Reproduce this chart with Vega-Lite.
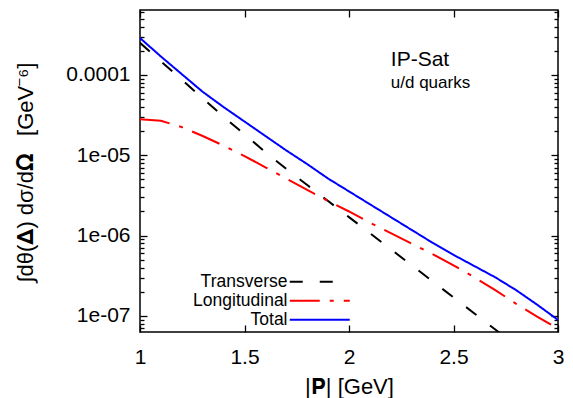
{
  "$schema": "https://vega.github.io/schema/vega-lite/v6.json",
  "width": 418,
  "height": 322,
  "autosize": "none",
  "padding": {"left": 140, "top": 10, "right": 15, "bottom": 66},
  "background": "white",
  "config": {
    "view": {"stroke": "black", "strokeWidth": 1.5},
    "font": "Liberation Sans",
    "axis": {
      "domain": false,
      "grid": false,
      "labelColor": "black",
      "labelFont": "Liberation Sans",
      "labelFontSize": 21,
      "titleFont": "Liberation Sans",
      "titleFontSize": 22,
      "titleFontWeight": "normal",
      "titleColor": "black",
      "labelOverlap": false,
      "labelFlush": false,
      "labelBound": false
    }
  },
  "data": {
    "values": [
      {"p": 1.0, "v": 2.512e-4, "s": "Transverse"},
      {"p": 1.1, "v": 1.479e-4, "s": "Transverse"},
      {"p": 1.2, "v": 8.710e-5, "s": "Transverse"},
      {"p": 1.3, "v": 5.129e-5, "s": "Transverse"},
      {"p": 1.4, "v": 3.020e-5, "s": "Transverse"},
      {"p": 1.5, "v": 1.820e-5, "s": "Transverse"},
      {"p": 1.6, "v": 1.096e-5, "s": "Transverse"},
      {"p": 1.7, "v": 6.761e-6, "s": "Transverse"},
      {"p": 1.8, "v": 4.266e-6, "s": "Transverse"},
      {"p": 1.9, "v": 2.692e-6, "s": "Transverse"},
      {"p": 2.0, "v": 1.698e-6, "s": "Transverse"},
      {"p": 2.1, "v": 1.072e-6, "s": "Transverse"},
      {"p": 2.2, "v": 6.761e-7, "s": "Transverse"},
      {"p": 2.3, "v": 4.266e-7, "s": "Transverse"},
      {"p": 2.4, "v": 2.692e-7, "s": "Transverse"},
      {"p": 2.5, "v": 1.698e-7, "s": "Transverse"},
      {"p": 2.6, "v": 1.072e-7, "s": "Transverse"},
      {"p": 2.7, "v": 6.761e-8, "s": "Transverse"},
      {"p": 2.8, "v": 4.266e-8, "s": "Transverse"},
      {"p": 1.0, "v": 2.818e-5, "s": "Longitudinal"},
      {"p": 1.1, "v": 2.692e-5, "s": "Longitudinal"},
      {"p": 1.2, "v": 2.239e-5, "s": "Longitudinal"},
      {"p": 1.3, "v": 1.738e-5, "s": "Longitudinal"},
      {"p": 1.4, "v": 1.318e-5, "s": "Longitudinal"},
      {"p": 1.5, "v": 9.772e-6, "s": "Longitudinal"},
      {"p": 1.6, "v": 7.079e-6, "s": "Longitudinal"},
      {"p": 1.7, "v": 5.129e-6, "s": "Longitudinal"},
      {"p": 1.8, "v": 3.715e-6, "s": "Longitudinal"},
      {"p": 1.9, "v": 2.692e-6, "s": "Longitudinal"},
      {"p": 2.0, "v": 1.995e-6, "s": "Longitudinal"},
      {"p": 2.1, "v": 1.445e-6, "s": "Longitudinal"},
      {"p": 2.2, "v": 1.072e-6, "s": "Longitudinal"},
      {"p": 2.3, "v": 7.943e-7, "s": "Longitudinal"},
      {"p": 2.4, "v": 5.888e-7, "s": "Longitudinal"},
      {"p": 2.5, "v": 4.266e-7, "s": "Longitudinal"},
      {"p": 2.6, "v": 3.020e-7, "s": "Longitudinal"},
      {"p": 2.7, "v": 2.089e-7, "s": "Longitudinal"},
      {"p": 2.8, "v": 1.413e-7, "s": "Longitudinal"},
      {"p": 2.9, "v": 9.772e-8, "s": "Longitudinal"},
      {"p": 3.0, "v": 6.918e-8, "s": "Longitudinal"},
      {"p": 1.0, "v": 2.884e-4, "s": "Total"},
      {"p": 1.1, "v": 1.698e-4, "s": "Total"},
      {"p": 1.2, "v": 1.023e-4, "s": "Total"},
      {"p": 1.3, "v": 6.166e-5, "s": "Total"},
      {"p": 1.4, "v": 3.981e-5, "s": "Total"},
      {"p": 1.5, "v": 2.630e-5, "s": "Total"},
      {"p": 1.6, "v": 1.738e-5, "s": "Total"},
      {"p": 1.7, "v": 1.148e-5, "s": "Total"},
      {"p": 1.8, "v": 7.762e-6, "s": "Total"},
      {"p": 1.9, "v": 5.129e-6, "s": "Total"},
      {"p": 2.0, "v": 3.548e-6, "s": "Total"},
      {"p": 2.1, "v": 2.455e-6, "s": "Total"},
      {"p": 2.2, "v": 1.698e-6, "s": "Total"},
      {"p": 2.3, "v": 1.175e-6, "s": "Total"},
      {"p": 2.4, "v": 8.128e-7, "s": "Total"},
      {"p": 2.5, "v": 5.754e-7, "s": "Total"},
      {"p": 2.6, "v": 4.169e-7, "s": "Total"},
      {"p": 2.7, "v": 3.020e-7, "s": "Total"},
      {"p": 2.8, "v": 2.089e-7, "s": "Total"},
      {"p": 2.9, "v": 1.380e-7, "s": "Total"},
      {"p": 3.0, "v": 8.913e-8, "s": "Total"}
    ]
  },
  "resolve": {"axis": {"x": "independent", "y": "independent"}},
  "layer": [
    {
      "mark": {"type": "line", "strokeWidth": 2, "clip": true},
      "encoding": {
        "x": {
          "field": "p",
          "type": "quantitative",
          "scale": {"domain": [1, 3], "nice": false, "zero": false},
          "axis": {"orient": "top", "offset": -322, "labels": false, "title": null, "values": [1, 1.5, 2, 2.5, 3], "tickSize": 7, "tickColor": "black", "tickWidth": 1.3}
        },
        "y": {
          "field": "v",
          "type": "quantitative",
          "scale": {"type": "log", "domain": [6.3e-8, 6.44e-4], "nice": false},
          "axis": {
            "orient": "right",
            "offset": -418,
            "labels": false,
            "title": null,
            "values": [7e-8, 8e-8, 9e-8, 1e-7, 2e-7, 3e-7, 4e-7, 5e-7, 6e-7, 7e-7, 8e-7, 9e-7, 1e-6, 2e-6, 3e-6, 4e-6, 5e-6, 6e-6, 7e-6, 8e-6, 9e-6, 1e-5, 2e-5, 3e-5, 4e-5, 5e-5, 6e-5, 7e-5, 8e-5, 9e-5, 1e-4, 2e-4, 3e-4, 4e-4, 5e-4, 6e-4],
            "tickSize": {"condition": {"test": "datum.value == 1e-7 || datum.value == 1e-6 || datum.value == 1e-5 || datum.value == 1e-4", "value": 7}, "value": 4},
            "tickColor": "black",
            "tickWidth": 1.3
          }
        },
        "color": {
          "field": "s",
          "type": "nominal",
          "scale": {"domain": ["Transverse", "Longitudinal", "Total"], "range": ["#000000", "#ff0000", "#0000ff"]},
          "legend": {
            "orient": "none",
            "legendX": 171,
            "legendY": 263,
            "title": null,
            "symbolType": "M-6,0H6",
            "symbolSize": 100,
            "symbolStrokeWidth": 2,
            "labelAlign": "right",
            "labelOffset": -41,
            "labelFontSize": 17.5,
            "labelFont": "Liberation Sans",
            "labelColor": "black",
            "rowPadding": 0,
            "padding": 0
          }
        },
        "strokeDash": {
          "field": "s",
          "type": "nominal",
          "scale": {"domain": ["Transverse", "Longitudinal", "Total"], "range": [[13, 17], [30, 10, 4, 10], [1, 0]]},
          "legend": {
            "orient": "none",
            "legendX": 171,
            "legendY": 263,
            "title": null,
            "symbolType": "M-6,0H6",
            "symbolSize": 100,
            "symbolStrokeWidth": 2,
            "labelAlign": "right",
            "labelOffset": -41,
            "labelFontSize": 17.5,
            "labelFont": "Liberation Sans",
            "labelColor": "black",
            "rowPadding": 0,
            "padding": 0
          }
        }
      }
    },
    {
      "data": {"values": [{}]},
      "mark": {"type": "text", "text": "IP-Sat", "align": "left", "baseline": "alphabetic", "fontSize": 21, "font": "Liberation Sans", "color": "black"},
      "encoding": {
        "x": {
          "datum": 2.2,
          "type": "quantitative",
          "scale": {"domain": [1, 3], "nice": false, "zero": false},
          "axis": {"orient": "bottom", "offset": -322, "labels": false, "title": null, "values": [1, 1.5, 2, 2.5, 3], "tickSize": 7, "tickColor": "black", "tickWidth": 1.3}
        },
        "y": {
          "datum": 1.31e-4,
          "type": "quantitative",
          "scale": {"type": "log", "domain": [6.3e-8, 6.44e-4], "nice": false},
          "axis": {
            "orient": "left",
            "offset": -418,
            "labels": false,
            "title": null,
            "values": [7e-8, 8e-8, 9e-8, 1e-7, 2e-7, 3e-7, 4e-7, 5e-7, 6e-7, 7e-7, 8e-7, 9e-7, 1e-6, 2e-6, 3e-6, 4e-6, 5e-6, 6e-6, 7e-6, 8e-6, 9e-6, 1e-5, 2e-5, 3e-5, 4e-5, 5e-5, 6e-5, 7e-5, 8e-5, 9e-5, 1e-4, 2e-4, 3e-4, 4e-4, 5e-4, 6e-4],
            "tickSize": {"condition": {"test": "datum.value == 1e-7 || datum.value == 1e-6 || datum.value == 1e-5 || datum.value == 1e-4", "value": 7}, "value": 4},
            "tickColor": "black",
            "tickWidth": 1.3
          }
        }
      }
    },
    {
      "data": {"values": [{}]},
      "mark": {"type": "text", "text": "u/d quarks", "align": "left", "baseline": "alphabetic", "fontSize": 17, "font": "Liberation Sans", "color": "black"},
      "encoding": {
        "x": {
          "datum": 2.2,
          "type": "quantitative",
          "scale": {"domain": [1, 3], "nice": false, "zero": false},
          "axis": {
            "orient": "bottom",
            "values": [1, 1.5, 2, 2.5, 3],
            "format": "~g",
            "tickSize": 0,
            "tickColor": "transparent",
            "labelPadding": 14,
            "title": "|𝐏| [GeV]",
            "titlePadding": 9
          }
        },
        "y": {
          "datum": 6.89e-5,
          "type": "quantitative",
          "scale": {"type": "log", "domain": [6.3e-8, 6.44e-4], "nice": false},
          "axis": {
            "orient": "left",
            "values": [1e-7, 1e-6, 1e-5, 1e-4],
            "labelExpr": "datum.value > 5e-5 ? '0.0001' : '1e-0' + toString(-round(log(datum.value)/LN10))",
            "tickSize": 0,
            "tickColor": "transparent",
            "labelPadding": 10,
            "title": "∫dθ(𝚫) dσ/d𝛀\u2002 [GeV⁻⁶]",
            "titleX": -103,
            "titleY": 162
          }
        }
      }
    }
  ]
}
